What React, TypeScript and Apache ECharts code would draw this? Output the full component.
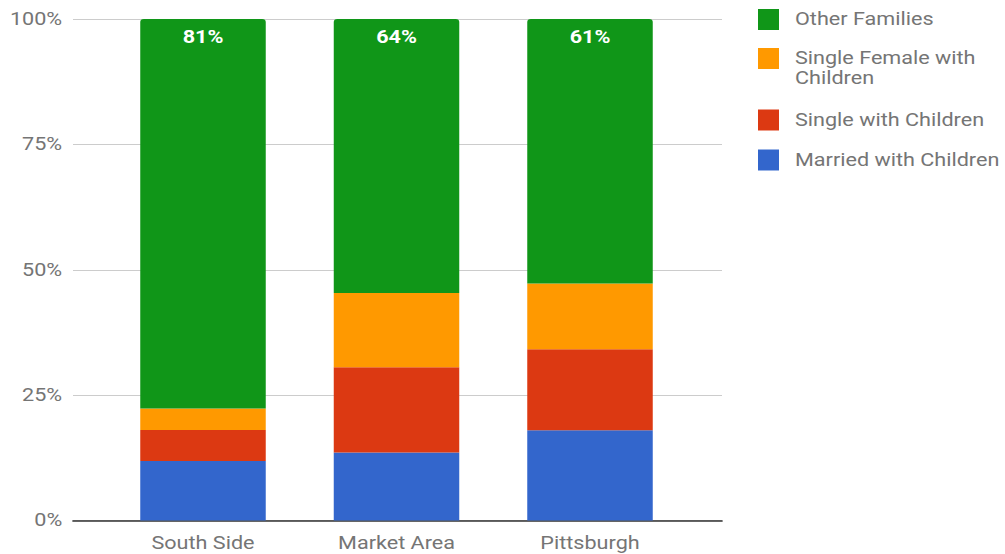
import React, { useEffect, useRef } from "react";
import * as echarts from "echarts";

const categories = ["South Side", "Market Area", "Pittsburgh"];
const marriedWithChildren = [12.4, 15.9, 20.8];
const singleWithChildren = [6.4, 19.9, 18.7];
const singleFemaleWithChildren = [4.5, 17.3, 15.2];
const otherFamilies = [81, 64, 61];
const yTicks = [0, 25, 50, 75, 100];

const COLORS = {
  other: "#109618",
  female: "#ff9900",
  single: "#dc3912",
  married: "#3366cc",
};

// the reference is horizontally stretched; draw narrower and stretch with CSS
const SX = 1.2;
const W = 1005 / SX;

export default function App() {
  const ref = useRef<HTMLDivElement>(null);
  useEffect(() => {
    document.body.style.margin = "0";
    const chart = echarts.init(ref.current!, undefined, { renderer: "svg" });
    const totals = categories.map(
      (_, i) =>
        marriedWithChildren[i] + singleWithChildren[i] + singleFemaleWithChildren[i] + otherFamilies[i]
    );
    const pct = (arr: number[]) => arr.map((v, i) => (v / totals[i]) * 100);
    const font = "Roboto";
    const gray = "#757575";
    const iconW = 21 / SX;
    const mkLegend = (name: string, top: number, two = false) => ({
      show: true,
      left: 758 / SX - 5,
      top,
      orient: "vertical",
      icon: two
        ? `path://M0,0L${iconW},0L${iconW},21L0,21Z M0,41L${iconW},41Z`
        : "rect",
      itemWidth: iconW,
      itemHeight: two ? 41 : 21,
      data: [name],
      textStyle: {
        fontFamily: font,
        fontSize: 18,
        color: gray,
        lineHeight: 20,
        padding: [0, 0, 0, 795 / SX - 758 / SX - iconW - 5],
      },
      selectedMode: false,
    });
    const barBase = {
      type: "bar",
      stack: "total",
      xAxisIndex: 1,
      yAxisIndex: 1,
      barWidth: 125.5 / SX,
    };
    chart.setOption({
      animation: false,
      grid: [
        { left: 73 / SX, top: 19, width: 649 / SX, height: 501.5 },
        { left: 106.25 / SX, top: 19, width: 580.5 / SX, height: 501.5 },
      ],
      xAxis: [
        {
          type: "category",
          gridIndex: 0,
          data: categories,
          axisLine: { show: true, lineStyle: { color: "#333", width: 1.5 } },
          axisTick: { show: false },
          axisLabel: { show: false },
        },
        {
          type: "category",
          gridIndex: 1,
          data: categories,
          axisLine: { show: false },
          axisTick: { show: false },
          axisLabel: { fontFamily: font, fontSize: 18, color: gray, margin: 14 },
        },
      ],
      yAxis: [
        {
          type: "value",
          gridIndex: 0,
          min: yTicks[0],
          max: yTicks[yTicks.length - 1],
          interval: 25,
          axisLine: { show: false },
          axisTick: { show: false },
          splitLine: { lineStyle: { color: "#cccccc", width: 1 } },
          axisLabel: {
            fontFamily: font,
            fontSize: 18,
            color: gray,
            margin: 9,
            formatter: (v: number) => v + "%",
          },
        },
        {
          type: "value",
          gridIndex: 1,
          min: 0,
          max: 100,
          show: false,
        },
      ],
      legend: [
        mkLegend("Other Families", 4),
        mkLegend("Single Female with\nChildren", 43, true),
        mkLegend("Single with Children", 104.5),
        mkLegend("Married with Children", 144.5),
      ],
      series: [
        {
          ...barBase,
          name: "Married with Children",
          data: pct(marriedWithChildren),
          itemStyle: { color: COLORS.married },
        },
        {
          ...barBase,
          name: "Single with Children",
          data: pct(singleWithChildren),
          itemStyle: { color: COLORS.single },
        },
        {
          ...barBase,
          name: "Single Female with\nChildren",
          data: pct(singleFemaleWithChildren),
          itemStyle: { color: COLORS.female },
        },
        {
          ...barBase,
          name: "Other Families",
          data: pct(otherFamilies),
          itemStyle: { color: COLORS.other, borderRadius: [3, 3, 0, 0] },
          label: {
            show: true,
            position: "insideTop",
            distance: 9,
            color: "#ffffff",
            fontFamily: font,
            fontWeight: "bold",
            fontSize: 18,
            formatter: (p: any) => otherFamilies[p.dataIndex] + "%",
          },
        },
      ],
    });
    return () => chart.dispose();
  }, []);
  return (
    <div
      ref={ref}
      style={{ width: W, height: 554, transform: `scaleX(${SX})`, transformOrigin: "0 0" }}
    />
  );
}
